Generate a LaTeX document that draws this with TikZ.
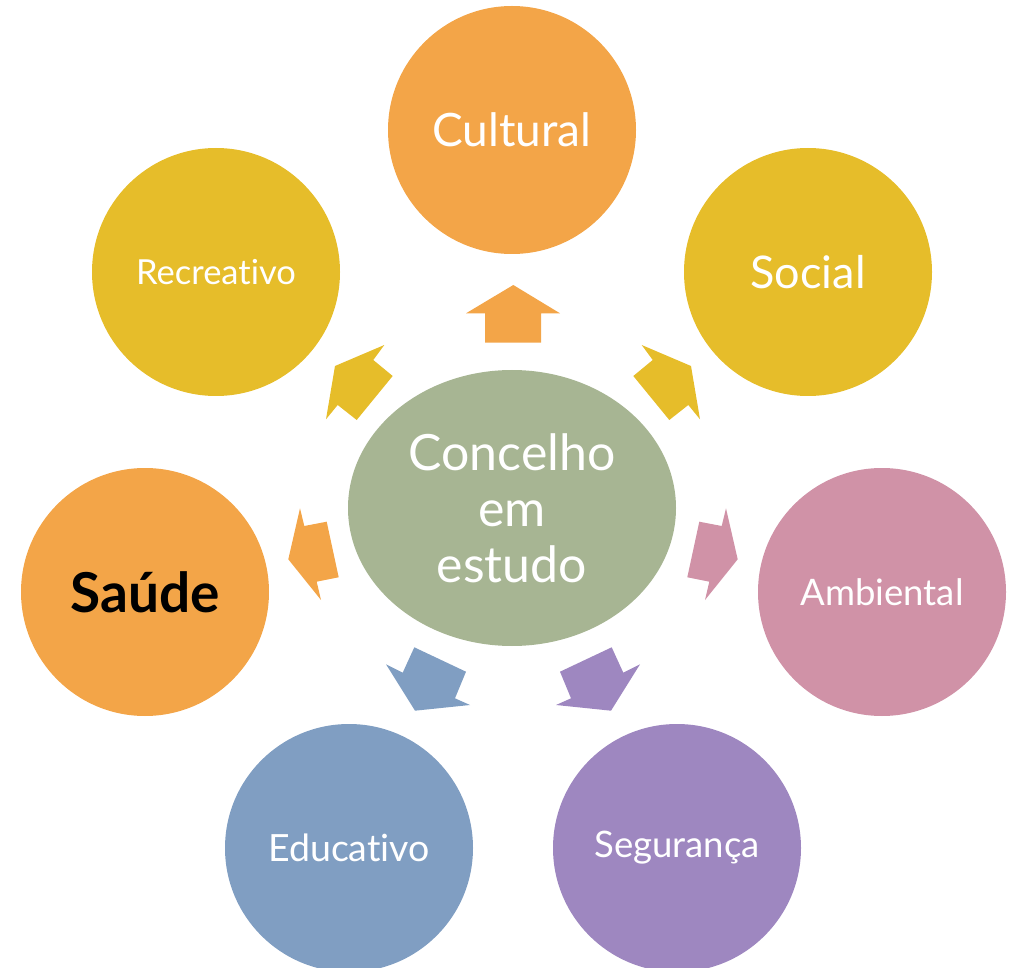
\documentclass[tikz,border=0pt]{standalone}
\usepackage{fontspec}
\setmainfont{Lato}[Ligatures={NoCommon}]
\usetikzlibrary{shapes.geometric}
\definecolor{corange}{HTML}{F3A548}
\definecolor{cyellow}{HTML}{E6BD2A}
\definecolor{cpink}{HTML}{D092A7}
\definecolor{cpurple}{HTML}{9E87C0}
\definecolor{cblue}{HTML}{809EC2}
\definecolor{cgreen}{HTML}{A7B593}
\tikzset{
  topic/.style={circle, minimum size=248pt, inner sep=0pt, text=white, align=center},
  bigtxt/.style={font=\fontsize{45}{54}\selectfont},
  midtxt/.style={font=\fontsize{36.5}{44}\selectfont},
  smalltxt/.style={font=\fontsize{34.5}{41}\selectfont},
  blockarrow/.style={draw=none},
}
\begin{document}
\begin{tikzpicture}[x=1pt,y=-1pt]
\useasboundingbox (0,0) rectangle (1010,968);
% circles
\node[topic, fill=corange, font=\fontsize{46}{55}\selectfont] (cultural) at (512,130) {Cultural};
\node[topic, fill=cyellow, bigtxt] (social) at (808,272) {Social};
\node[topic, fill=cpink, midtxt] (ambiental) at (882,592) {Ambiental};
\node[topic, fill=cpurple, midtxt] (seguranca) at (677,848) {Segurança};
\node[topic, fill=cblue, font=\fontsize{37.5}{45}\selectfont] (educativo) at (349,848) {Educativo};
\node[topic, fill=corange, text=black, font=\fontsize{55}{66}\selectfont\bfseries] (saude) at (145,592) {Saúde};
\node[topic, fill=cyellow, smalltxt] (recreativo) at (216,272) {Recreativo};
% centre
\node[ellipse, fill=cgreen, minimum width=328pt, minimum height=276pt, inner sep=0pt,
      text=white, align=center, font=\fontsize{50}{56}\selectfont] (centre) at (512,508)
      {Concelho\\em\\estudo};
% arrows
\fill[corange, blockarrow] (513.3,285) -- (560,313.3) -- (541,313.3) -- (541,342.7) -- (485,342.7) -- (485,313.3) -- (466,313.3) -- cycle;
\fill[cyellow, blockarrow] (691,366) -- (700,419.3) -- (688.3,405) -- (669.3,420) -- (633.3,376) -- (652.7,360) -- (641.7,345) -- cycle;
\fill[cyellow, blockarrow] (335,366) -- (326,419.3) -- (337.7,405) -- (356.7,420) -- (392.7,376) -- (373.3,360) -- (384.3,345) -- cycle;
\fill[cpink, blockarrow] (737.7,559.3) -- (705,600) -- (709.3,581.7) -- (687.3,577.3) -- (699.3,521.7) -- (721.7,526) -- (726,508.3) -- cycle;
\fill[corange, blockarrow] (288.3,559.3) -- (321,600) -- (316.7,581.7) -- (338.7,577.3) -- (326.7,521.7) -- (304.3,526) -- (300,508.3) -- cycle;
\fill[cblue, blockarrow] (415,710.7) -- (470,705) -- (455,698.3) -- (466,671.7) -- (414.3,647.3) -- (402.7,672.7) -- (386,664.3) -- cycle;
\fill[cpurple, blockarrow] (611,710.7) -- (556,705) -- (571,698.3) -- (560,671.7) -- (611.7,647.3) -- (623.3,672.7) -- (640,664.3) -- cycle;
\end{tikzpicture}
\end{document}
